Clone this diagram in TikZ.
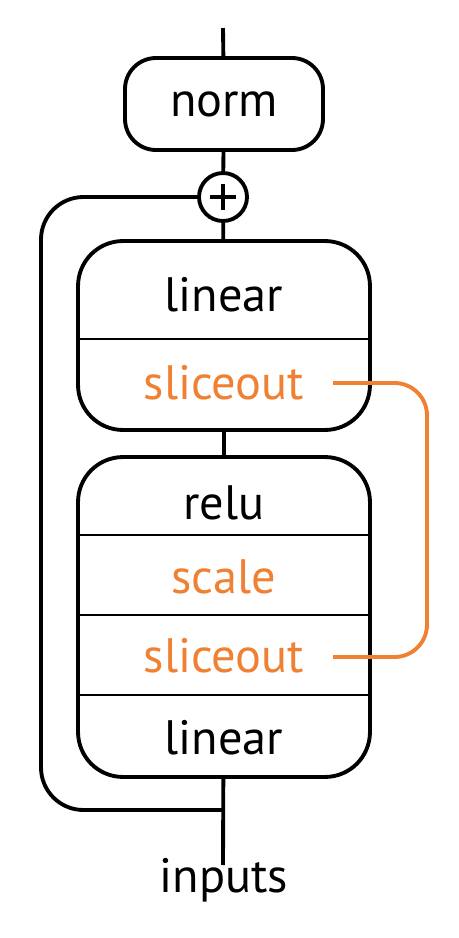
\documentclass[tikz,border=0pt]{standalone}
\usepackage{fontspec}
\setmainfont{PT Sans}
\usetikzlibrary{positioning, arrows.meta}
\definecolor{sliceorange}{RGB}{240,128,50}
\begin{document}
\begin{tikzpicture}[
    x=0.02cm, y=-0.02cm,
    line/.style={draw, line width=2.2pt},
    sep/.style={draw, line width=0.8pt},
    oline/.style={draw=sliceorange, line width=2.2pt},
    blk/.style={draw, line width=2.2pt, rounded corners=0.9cm, minimum width=5.84cm},
    lbl/.style={font=\fontsize{27.5}{32}\selectfont},
    olbl/.style={lbl, text=sliceorange}
  ]
    \useasboundingbox (0,0) rectangle (458,938);
    % norm block and plus
    \node[draw, line width=2.2pt, rounded corners=0.62cm, minimum width=3.96cm, minimum height=1.84cm] (norm) at (224,104) {};
    \node[lbl] (normt) at (224,104) {norm};
    \node[draw, circle, line width=2.2pt, minimum size=0.96cm, inner sep=0pt] (sum) at (223,197) {};
    \draw[line width=2.2pt] (sum.center) ++(0,-13) -- ++(0,26) (sum.center) ++(-13,0) -- ++(26,0);
    % upper block
    \node[blk, minimum height=3.78cm] (blkA) at (224,335.5) {};
    \node[lbl] (linA) at (224,295) {linear};
    \node[olbl] (sloA) at (224,383) {sliceout};
    \draw[sep] (blkA.west |- 0,339) -- (blkA.east |- 0,339);
    % lower block
    \node[blk, minimum height=6.4cm] (blkB) at (224,617) {};
    \node[lbl] (relu) at (224,503) {relu};
    \node[olbl] (scale) at (224,577) {scale};
    \node[olbl] (sloB) at (224,656) {sliceout};
    \node[lbl] (linB) at (224,738) {linear};
    \foreach \yy in {535,615,695}
      \draw[sep] (blkB.west |- 0,\yy) -- (blkB.east |- 0,\yy);
    % inputs
    \coordinate (top) at (223,28);
    \coordinate (inp) at (223,865);
    \coordinate (join) at (223,810);
    \coordinate (skipL) at (41,0);
    \node[lbl] (inputs) at (224,880) {inputs};
    % main path
    \draw[line] (top) -- (norm);
    \draw[line] (norm) -- (sum);
    \draw[line] (sum) -- (blkA);
    \draw[line] (blkA) -- (blkB);
    \draw[line] (blkB) -- (inp);
    % skip connection
    \draw[line, rounded corners=0.85cm] (join) -- (join -| skipL) -- (sum -| skipL) -- (sum.west);
    % sliceout link
    \coordinate (oA) at (333,383);
    \coordinate (oB) at (333,657);
    \coordinate (oR) at (427,0);
    \draw[oline, rounded corners=0.65cm] (oA) -- (oA -| oR) -- (oB -| oR) -- (oB);
  \end{tikzpicture}
\end{document}
